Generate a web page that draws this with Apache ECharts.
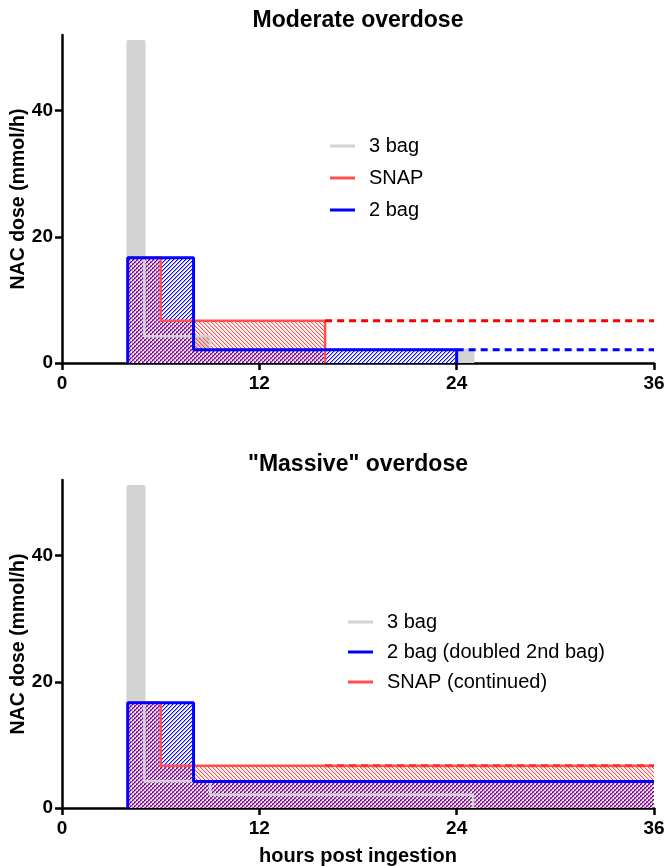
<!DOCTYPE html>
<html>
<head>
<meta charset="utf-8">
<script src="https://cdn.jsdelivr.net/npm/echarts@6/dist/echarts.min.js"></script>
<style>
  html, body { margin: 0; padding: 0; background: #fff; }
  #chart { width: 667px; height: 866px; }
</style>
</head>
<body>
<div id="chart"></div>
<script>
// axis ticks
var hourTicks = [0, 12, 24, 36];
var doseTicks = [0, 20, 40];

// step schedules: change times (h) and infusion rates (mmol/h) between them
var modThreeBagT = [4, 5, 9, 25];
var modThreeBagR = [51, 4.25, 2.1];
var modSnapT = [4, 6, 16];
var modSnapR = [16.7, 6.7];
var modTwoBagT = [4, 8, 24];
var modTwoBagR = [16.7, 2.1];
var modSnapDash = [[16, 6.7], [36, 6.7]];
var modTwoBagDash = [[24, 2.1], [36, 2.1]];

var masThreeBagT = [4, 5, 9, 25];
var masThreeBagR = [51, 4.25, 2.1];
var masTwoBagT = [4, 8, 36];
var masTwoBagR = [16.7, 4.2];
var masSnapT = [4, 6, 36];
var masSnapR = [16.7, 6.7];
var masSnapDash = [[16, 6.7], [36, 6.7]];

var GRAY = '#d3d3d3';
var RED = '#ff4f4f';
var BLUE = '#0000ff';
var FONT = 'Liberation Sans, Arial, sans-serif';

function steps(t, r, closeEnd) {
  var pts = [[t[0], 0]];
  for (var i = 0; i < r.length; i++) {
    pts.push([t[i], r[i]], [t[i + 1], r[i]]);
  }
  if (closeEnd) pts.push([t[t.length - 1], 0]);
  return pts;
}

// pixel hatch tile, "/" when forward, "\" otherwise.
// offsets chosen so the two families never share a pixel
function hatch(rgb, forward, bg, soft, off) {
  var s = 4;
  var c = document.createElement('canvas');
  c.width = s; c.height = s;
  var ctx = c.getContext('2d');
  if (bg) { ctx.fillStyle = bg; ctx.fillRect(0, 0, s, s); }
  for (var y = 0; y < s; y++) {
    for (var x = 0; x < s; x++) {
      var k = forward ? (x + y) : (x - y);
      k = ((k - off) % s + s) % s;
      if (k === 0) ctx.fillStyle = 'rgba(' + rgb + ',1)';
      else if (k === 1 && soft > 0) ctx.fillStyle = 'rgba(' + rgb + ',' + soft + ')';
      else continue;
      ctx.fillRect(x, y, 1, 1);
    }
  }
  return { image: c, repeat: 'repeat' };
}

var bluePattern = hatch('10,10,255', true, '#ffffff', 0.4, 0);
var redPattern = hatch('255,80,80', false, null, 0.3, 1);

function area(g, data, fill) {
  return {
    type: 'line', xAxisIndex: g, yAxisIndex: g, data: data,
    symbol: 'none', silent: true,
    lineStyle: { width: 0 },
    areaStyle: { color: fill, opacity: 1 }
  };
}

function line(g, name, data, color, width, dashed) {
  return {
    type: 'line', name: name, xAxisIndex: g, yAxisIndex: g, data: data,
    symbol: 'none', color: color,
    lineStyle: { color: color, width: width, type: dashed ? [7, 5] : 'solid' }
  };
}

function xAxis(g, named) {
  var ax = {
    type: 'value', gridIndex: g, min: 0, max: 36, interval: 12,
    axisLine: { lineStyle: { color: '#000', width: 2.5 } },
    axisTick: { length: 7, lineStyle: { color: '#000', width: 2.5 }, customValues: hourTicks },
    axisLabel: { color: '#000', fontFamily: FONT, fontWeight: 'bold', fontSize: 19, margin: 11, customValues: hourTicks },
    splitLine: { show: false }
  };
  if (named) {
    ax.name = 'hours post ingestion';
    ax.nameLocation = 'middle';
    ax.nameGap = 38;
    ax.nameTextStyle = { color: '#000', fontFamily: FONT, fontWeight: 'bold', fontSize: 20 };
  }
  return ax;
}

function yAxis(g) {
  return {
    type: 'value', gridIndex: g, min: 0, max: 52, interval: 20,
    name: 'NAC dose (mmol/h)', nameLocation: 'middle', nameGap: 33, nameMoveOverlap: false,
    nameTextStyle: { color: '#000', fontFamily: FONT, fontWeight: 'bold', fontSize: 19.5 },
    axisLine: { show: true, lineStyle: { color: '#000', width: 2.5 } },
    axisTick: { show: true, length: 7, lineStyle: { color: '#000', width: 2.5 }, customValues: doseTicks },
    axisLabel: { color: '#000', fontFamily: FONT, fontWeight: 'bold', fontSize: 19, margin: 9, customValues: doseTicks },
    splitLine: { show: false }
  };
}

var legendText = { fontFamily: FONT, fontSize: 20, color: '#000', padding: [0, 0, 0, 9] };

var chart = echarts.init(document.getElementById('chart'));
chart.setOption({
  animation: false,
  backgroundColor: '#fff',
  title: [
    { text: 'Moderate overdose', left: 358, top: 9, textAlign: 'center', padding: 0,
      textStyle: { fontFamily: FONT, fontWeight: 'bold', fontSize: 23, color: '#000' } },
    { text: '"Massive" overdose', left: 358, top: 453, textAlign: 'center', padding: 0,
      textStyle: { fontFamily: FONT, fontWeight: 'bold', fontSize: 23, color: '#000' } }
  ],
  legend: [
    { data: ['3 bag', 'SNAP', '2 bag'], orient: 'vertical', left: 330, top: 136,
      icon: 'rect', itemGap: 12, itemWidth: 25, itemHeight: 3, padding: 0, selectedMode: false,
      textStyle: legendText },
    { data: ['3 bag', '2 bag (doubled 2nd bag)', 'SNAP (continued)'], orient: 'vertical', left: 348, top: 612,
      icon: 'rect', itemGap: 10, itemWidth: 25, itemHeight: 3, padding: 0, selectedMode: false,
      textStyle: legendText }
  ],
  grid: [
    { left: 62, top: 35, width: 592, height: 328, outerBoundsMode: 'none', containLabel: false },
    { left: 62, top: 480, width: 592, height: 328, outerBoundsMode: 'none', containLabel: false }
  ],
  xAxis: [xAxis(0, false), xAxis(1, true)],
  yAxis: [yAxis(0), yAxis(1)],
  series: [
    // moderate overdose
    area(0, steps(modThreeBagT, modThreeBagR, true), GRAY),
    area(0, steps(modTwoBagT, modTwoBagR, true), bluePattern),
    area(0, steps(modSnapT, modSnapR, true), redPattern),
    line(0, '3 bag', steps(modThreeBagT, modThreeBagR, true), GRAY, 2.5, false),
    line(0, 'SNAP', steps(modSnapT, modSnapR, true), RED, 2.5, false),
    line(0, '2 bag', steps(modTwoBagT, modTwoBagR, true), BLUE, 3, false),
    line(0, 'SNAP cont', modSnapDash, '#ff0000', 3, true),
    line(0, '2 bag cont', modTwoBagDash, BLUE, 3, true),
    // massive overdose
    area(1, steps(masThreeBagT, masThreeBagR, true), GRAY),
    area(1, steps(masTwoBagT, masTwoBagR, false), bluePattern),
    area(1, steps(masSnapT, masSnapR, false), redPattern),
    line(1, '3 bag', steps(masThreeBagT, masThreeBagR, true), GRAY, 2.5, false),
    line(1, 'SNAP (continued)', steps(masSnapT, masSnapR, false), RED, 2.5, false),
    line(1, '2 bag (doubled 2nd bag)', steps(masTwoBagT, masTwoBagR, false), BLUE, 3, false),
    line(1, 'SNAP dash', masSnapDash, '#ff3030', 3, true)
  ]
});
</script>
</body>
</html>
